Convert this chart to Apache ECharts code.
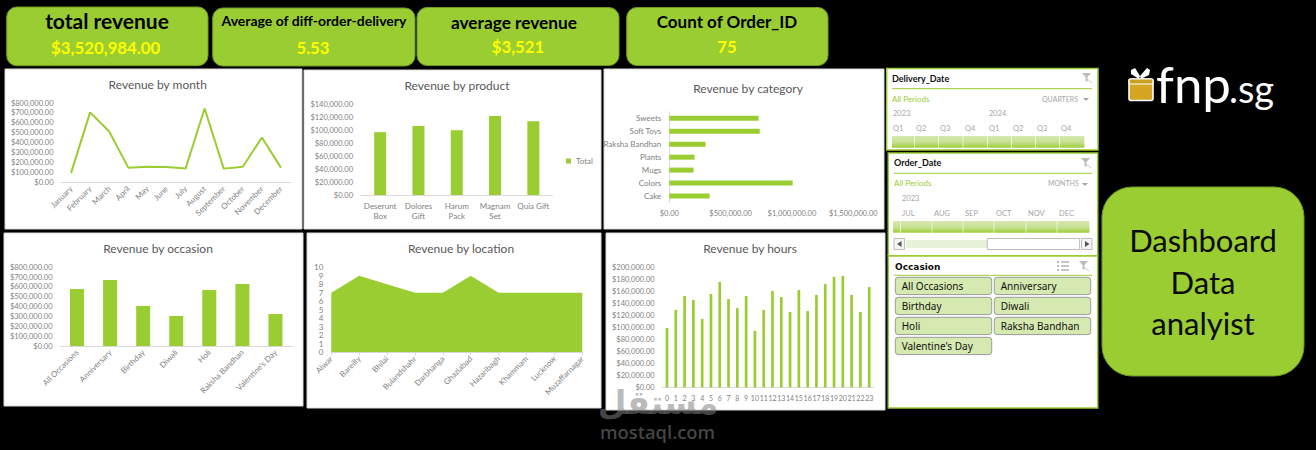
<!DOCTYPE html>
<html><head><meta charset="utf-8">
<style>html,body{margin:0;padding:0;background:#000}#c{width:1316px;height:450px}</style>
<script src="https://cdn.jsdelivr.net/npm/echarts@6/dist/echarts.min.js"></script>
</head><body><div id="c"></div>
<script>
const months=['January','February','March','April','May','June','July','August','September','October','November','December'];
const monthValues=[95000,705000,513000,148000,157000,155000,138000,745000,138000,157000,452000,148000];
const products=['Deserunt\nBox','Dolores\nGift','Harum\nPack','Magnam\nSet','Quia Gift'];
const productValues=[97000,106500,100000,122000,114000];
const categories=['Cake','Colors','Mugs','Plants','Raksha Bandhan','Soft Toys','Sweets'];
const categoryValues=[329000,1006000,198000,206000,296000,737000,728000];
const occasions=['All Occasions','Anniversary','Birthday','Diwali','Holi','Raksha Bandhan',"Valentine's Day"];
const occasionValues=[579000,671000,407000,305000,569000,630000,325000];
const locations=['Alwar','Bareilly','Bhilai','Bulandshahr','Darbhanga','Ghaziabad','Hazaribagh','Khammam','Lucknow','Muzaffarnagar'];
const locationValues=[7,9,8,7,7,9,7,7,7,7];
const hours=['0','1','2','3','4','5','6','7','8','9','10','11','12','13','14','15','16','17','18','19','20','21','22','23'];
const hourValues=[99000,129000,152000,145500,114000,155500,175500,147000,132000,152000,94000,129000,160500,150500,125500,162000,127000,154000,172000,184000,185500,154000,125500,167000];
const kpiTitles=['total revenue','Average of diff-order-delivery','average revenue','Count of Order_ID'];
const kpiValues=['$3,520,984.00','5.53','$3,521','75'];
const quarterLabels=['Q1','Q2','Q3','Q4','Q1','Q2','Q3','Q4'];
const monthLabels=['JUL','AUG','SEP','OCT','NOV','DEC'];
const chartTitles=['Revenue by month','Revenue by product','Revenue by category','Revenue by occasion','Revenue by location','Revenue by hours'];

const GREEN='#9acd32',F='Lato',AX='#d9d9d9',LB='#7f7f7f',WM='rgba(128,128,128,0.55)';
const g=[];
const rect=(x,y,w,h,fill,stroke,lw,r,z)=>g.push({type:'rect',z:z??-5,shape:{x,y,width:w,height:h,r:r||0},style:{fill,stroke:stroke||null,lineWidth:lw||0},silent:true});
const txt=(x,y,text,font,fill,align,z,base)=>g.push({type:'text',z:z??-1,x,y,style:{text,font,fill,align:align||'left',verticalAlign:base||'middle',textAlign:align||'left',textVerticalAlign:base||'middle'},silent:true});
const line=(x1,y1,x2,y2,c,w,z)=>g.push({type:'line',z:z??-1,shape:{x1,y1,x2,y2},style:{stroke:c,lineWidth:w||1},silent:true});
const poly=(points,fill,z)=>g.push({type:'polygon',z:z??-1,shape:{points},style:{fill},silent:true});

// KPI cards
const kpi=[[6.7,7,201.3,58.7,107,20,'bold 21px ',105.7,47],[212.7,8,202.3,58,314,20.5,'bold 14px ',313,47],[417,7.5,202,58,514,22,'bold 17.3px ',518,46],[626.7,7.5,201.3,58,727,21,'bold 17px ',727,46]];
kpi.forEach((k,i)=>{
  rect(k[0],k[1],k[2],k[3],GREEN,'#6e9a22',1,10);
  txt(k[4],k[5],kpiTitles[i],k[6]+F,'#000','center');
  txt(k[7],k[8],kpiValues[i],'bold 16.8px '+F,'#ffff00','center');
});
// chart panels
[[5,69,297,160],[304,70,297,159],[604,69,280,160],[4,233,299,173],[307,233,294,175],[606,233,279,177]].forEach(p=>rect(p[0],p[1],p[2],p[3],'#fff','#d9d9d9',1));

// filter icon
const funnel=(x,y)=>{poly([[x,y],[x+9,y],[x+5.5,y+4],[x+5.5,y+9],[x+3.5,y+8],[x+3.5,y+4]],'#bdbdbd');line(x+4,y+5,x+10,y+10,'#c9c9c9',1);};
const segGrad={type:'linear',x:0,y:0,x2:0,y2:1,colorStops:[{offset:0,color:'#d6e9b0'},{offset:.55,color:'#c6e090'},{offset:1,color:'#9acd32'}]};
const slicerSeg=(xs,y,h)=>{for(let i=0;i<xs.length-1;i++)rect(xs[i],y,xs[i+1]-xs[i]-.6,h,segGrad);};

// Delivery slicer
rect(886.7,68.5,211.3,81.5,'#fff',GREEN,1.5);
txt(892,78,'Delivery_Date','bold 9px '+F,'#111');line(892,88.7,1092,88.7,GREEN,1);funnel(1082,73);
txt(892,98.5,'All Periods','8px '+F,GREEN);txt(1042,98.5,'QUARTERS','7px '+F,'#a6a6a6');
poly([[1083,98],[1089,98],[1086,101]],'#a6a6a6');
txt(893,113.5,'2023','7.5px '+F,'#a6a6a6');txt(989,113.5,'2024','7.5px '+F,'#a6a6a6');
[893,916,940,965,989,1013,1037,1061].forEach((x,i)=>txt(x,128.7,quarterLabels[i],'7.5px '+F,'#a6a6a6'));
slicerSeg([892,914.7,938.7,963.3,987.7,1011.7,1035.7,1059.7,1085],136,11.7);

// Order slicer
rect(888.3,153,209.4,102.7,'#fff',GREEN,1.5);
txt(894,162.7,'Order_Date','bold 9px '+F,'#111');line(894,173.3,1092,173.3,GREEN,1);funnel(1081,158);
txt(894,183,'All Periods','8px '+F,GREEN);txt(1048,183,'MONTHS','7px '+F,'#a6a6a6');
poly([[1082,183],[1088,183],[1085,186]],'#a6a6a6');
txt(902,198.5,'2023','7.5px '+F,'#a6a6a6');
[902,934,965,996,1028,1059].forEach((x,i)=>txt(x,213.5,monthLabels[i],'7.5px '+F,'#a6a6a6'));
slicerSeg([893,900.7,932.3,963.3,994.3,1026.3,1057.3,1090],221,11.7);
rect(894,238.5,10.5,11,'#f5f5f5','#bdbdbd',1,0,-4);poly([[901.5,241],[901.5,247],[897,244]],'#555');
rect(906,240,81,8,'#e8f2d8',null,0,0,-4);
rect(987.3,238.5,92.3,11,'#fff','#bdbdbd',1,0,-4);
rect(1081.5,238.5,10.5,11,'#f5f5f5','#bdbdbd',1,0,-4);poly([[1085,241],[1085,247],[1089.5,244]],'#555');

// Occasion slicer
rect(888.3,256,209.4,152,'#fff',GREEN,1.5);
txt(895,266.5,'Occasion','bold 9px "DejaVu Sans"','#111');line(894,275.3,1092,275.3,GREEN,1);
[262,266,270].forEach(y=>line(1061,y,1069,y,'#a0a0a0',1.2));[262,266,270].forEach(y=>line(1057,y,1059,y,'#a0a0a0',1.6));funnel(1079,261);
[[895.3,277.3],[994.3,277.3],[895.3,297.3],[994.3,297.3],[895.3,317.3],[994.3,317.3],[895.3,337.3]].forEach((b,i)=>{
  rect(b[0],b[1],96.4,17.3,'#d6e9b0','#9a9a9a',1,3,-4);
  txt(b[0]+6.4,b[1]+9,occasions[i],'10px "Noto Sans"','#111');
});

// logo
[[[1131,70],[1135,68],[1140,76],[1139,79],[1131,74]],[[1150,70],[1147,68],[1140,76],[1141,79],[1149,75]]].forEach(p=>poly(p,'#fff'));
rect(1129,79,24,21.5,'#d4a520','#fff',1.6,2,-1);
rect(1129,79,24,5,'#c9a020','#fff',1.2,1,-1);
txt(1156,83,'fnp','400 51px '+F,'#fff','left',-1);
txt(1229,88,'.sg','400 38px '+F,'#fff','left',-1);

// right card
rect(1102,187,202,189,GREEN,'#6e9a22',1,30);
txt(1203,240,'Dashboard','31px '+F,'#0a0a0a','center');
txt(1203,282,'Data','31px '+F,'#0a0a0a','center');
txt(1203,323,'analyist','31px '+F,'#0a0a0a','center');

// watermark
txt(658,402,'مستقل','bold 33px "DejaVu Sans"',WM,'center',50);
txt(657.5,431,'mostaql.com','600 18.4px "Open Sans"',WM,'center',50);

const box=(l,r,t,b)=>({left:l,top:t,width:r-l,height:b-t,containLabel:false});
const grids=[box(61.5,290.5,103,182.3),box(361,552.5,104.3,195),box(669.3,853.3,111.8,202.5),box(60.5,292,267.3,346),box(331.3,582.3,267.3,352.3),box(662.6,873.6,267.3,387.3)];
const usd=v=>'$'+v.toLocaleString('en-US',{minimumFractionDigits:2,maximumFractionDigits:2});
const lab=(o)=>Object.assign({color:LB,fontFamily:F,fontSize:8,margin:5,interval:0},o||{});
const catAxis=(i,data,o)=>Object.assign({type:'category',gridIndex:i,data,axisLine:{lineStyle:{color:AX,width:1}},axisTick:{show:false},splitLine:{show:false},axisLabel:lab({rotate:45})},o||{});
const valAxis=(i,max,interval,fmt,o)=>Object.assign({type:'value',gridIndex:i,min:0,max,interval,axisLine:{show:false},axisTick:{show:false},splitLine:{show:false},axisLabel:{color:LB,fontFamily:F,fontSize:7.5,margin:8,formatter:fmt,showMinLabel:true,showMaxLabel:true}},o||{});

const xs=[
 catAxis(0,months),
 catAxis(1,products,{axisLabel:lab({rotate:0,lineHeight:10,margin:6})}),
 valAxis(2,1500000,500000,usd,{axisLabel:{color:LB,fontFamily:F,fontSize:7.5,margin:7,formatter:usd,showMinLabel:true,showMaxLabel:true}}),
 catAxis(3,occasions),
 catAxis(4,locations,{boundaryGap:false,axisTick:{show:true,length:3,lineStyle:{color:AX}}}),
 catAxis(5,hours,{axisLabel:lab({rotate:0,margin:7,fontSize:7})})
];
const ys=[
 valAxis(0,800000,100000,usd),
 valAxis(1,140000,20000,usd),
 catAxis(2,categories,{axisLabel:lab({rotate:0,margin:8})}),
 valAxis(3,800000,100000,usd),
 valAxis(4,10,1,null,{axisLabel:{color:LB,fontFamily:F,fontSize:8,margin:8}}),
 valAxis(5,200000,20000,usd)
];
const bar=(i,data,w,name)=>({type:'bar',name,xAxisIndex:i,yAxisIndex:i,data,barWidth:w,itemStyle:{color:GREEN},silent:true,animation:false});
const titlePos=[[152.7,84],[452,85],[743,88],[153,248],[456,248],[745,248]];
const option={
 backgroundColor:'#000',animation:false,
 title:chartTitles.map((t,i)=>({text:t,left:titlePos[i][0],top:titlePos[i][1]-11,textAlign:'center',textStyle:{color:'#595959',fontFamily:F,fontWeight:'normal',fontSize:12}})),
 legend:{data:['Total'],left:561,top:152,icon:'rect',itemWidth:5,itemHeight:5,itemGap:2,textStyle:{color:LB,fontFamily:F,fontSize:8},selectedMode:false},
 grid:grids,xAxis:xs,yAxis:ys,
 series:[
  {type:'line',xAxisIndex:0,yAxisIndex:0,data:monthValues,showSymbol:false,lineStyle:{color:GREEN,width:2},silent:true},
  bar(1,productValues,12,'Total'),
  bar(2,categoryValues,5),
  bar(3,occasionValues,14),
  {type:'line',xAxisIndex:4,yAxisIndex:4,data:locationValues,showSymbol:false,lineStyle:{width:0,color:GREEN},itemStyle:{color:GREEN},areaStyle:{color:GREEN,opacity:1},silent:true},
  bar(5,hourValues,2.7)
 ],
 graphic:{elements:g}
};
echarts.init(document.getElementById('c'),null,{renderer:'svg',width:1316,height:450}).setOption(option);
</script></body></html>
